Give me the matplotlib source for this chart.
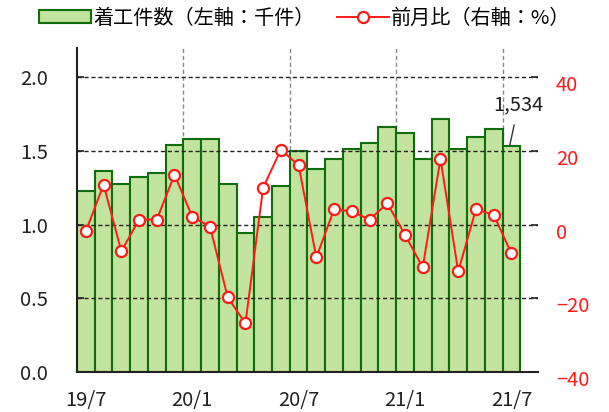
import numpy as np
import matplotlib
matplotlib.use("Agg")
import matplotlib.pyplot as plt
from matplotlib.patches import Patch
from matplotlib.lines import Line2D
import matplotlib.transforms as mtransforms

plt.rcParams["font.family"] = ["Noto Sans CJK JP", "DejaVu Sans"]

# monthly data, 19/7 .. 21/7
months = ["19/7", "19/8", "19/9", "19/10", "19/11", "19/12",
          "20/1", "20/2", "20/3", "20/4", "20/5", "20/6",
          "20/7", "20/8", "20/9", "20/10", "20/11", "20/12",
          "21/1", "21/2", "21/3", "21/4", "21/5", "21/6", "21/7"]
starts = [1.227, 1.363, 1.279, 1.322, 1.349, 1.539,
          1.580, 1.580, 1.279, 0.942, 1.051, 1.266,
          1.498, 1.376, 1.444, 1.512, 1.553, 1.661,
          1.620, 1.444, 1.715, 1.512, 1.593, 1.647, 1.534]
mom = [-1.8, 10.9, -7.2, 1.4, 1.4, 13.6,
       2.2, -0.5, -19.7, -26.8, 10.1, 20.4,
       16.1, -8.9, 4.2, 3.6, 1.4, 5.8,
       -2.7, -11.6, 17.9, -12.7, 4.2, 2.7, -7.8]
tick_labels = ["19/7", "20/1", "20/7", "21/1", "21/7"]

bar_face = "#c3e49e"
bar_edge = "#0e6e0e"
red = "#ff1a1a"

fig = plt.figure(figsize=(6.09, 4.12), dpi=100)
ax = fig.add_axes([0.1264, 0.0971, 0.7570, 0.7864])
ax2 = ax.twinx()

x = np.arange(len(months))
ax.bar(x, starts, width=1.0, align="edge", color=bar_face,
       edgecolor=bar_edge, linewidth=1.5, zorder=1)

ax.set_xlim(0, len(months) + 1)
ax.set_ylim(0, 2.2)
ax2.set_ylim(-40, 48)

# grid: horizontal over bars, vertical under bars
for yv in [0.5, 1.0, 1.5, 2.0]:
    ax.axhline(yv, color="#222222", lw=1.0, ls=(0, (3, 2)), zorder=2.5)
tick_idx = [months.index(m) for m in tick_labels]
for i in tick_idx[1:]:
    ax.axvline(x[i], color="#888888", lw=1.0, ls=(0, (3, 2)), zorder=0.5)

ax.set_xticks(x[tick_idx] + 0.5)
ax.set_xticklabels(tick_labels)
ax.tick_params(axis="x", length=0, pad=13, labelsize=14.5, colors="#222222")

ax.set_yticks([0.0, 0.5, 1.0, 1.5, 2.0])
ax.set_yticklabels(["0.0", "0.5", "1.0", "1.5", "2.0"])
ax.tick_params(axis="y", direction="in", length=5, width=1.2, pad=21,
               labelsize=14.5, colors="#222222")

ax2.set_yticks([-40, -20, 0, 20, 40])
ax2.set_yticklabels(["\u221240", "\u221220", "0", "20", "40"])
ax2.tick_params(axis="y", direction="in", length=5, width=1.2, pad=13,
                labelsize=14.5, colors="#222222", labelcolor=red)
offset = mtransforms.ScaledTranslation(0, -6 / 100, fig.dpi_scale_trans)
for lab in ax2.get_yticklabels():
    lab.set_transform(lab.get_transform() + offset)

for s in ["top", "right"]:
    ax.spines[s].set_visible(False)
for s in ax2.spines.values():
    s.set_visible(False)
ax.spines["left"].set_linewidth(1.5)
ax.spines["bottom"].set_linewidth(1.5)
ax.spines["left"].set_color("#222222")
ax.spines["bottom"].set_color("#222222")

ax2.plot(x + 0.5, mom, color=red, lw=1.4, marker="o", ms=8,
         mfc="white", mec=red, mew=1.6, zorder=3)

last = starts[-1]
ax.annotate(f"{last * 1000:,.0f}", xy=(x[-1] + 0.4, last),
            xytext=(x[-1] + 0.9, last + 0.28), ha="center", va="center",
            fontsize=14.5, color="#222222",
            arrowprops=dict(arrowstyle="-", color="#333333", lw=1.0,
                            shrinkA=5, shrinkB=0))

handles = [Patch(facecolor=bar_face, edgecolor=bar_edge, linewidth=1.5),
           Line2D([], [], color=red, lw=1.4, marker="o", ms=8,
                  mfc="white", mec=red, mew=1.6)]
fig.legend(handles, ["着工件数（左軸：千件）", "前月比（右軸：%）"],
           loc="upper center", bbox_to_anchor=(0.5, 1.01), ncol=2,
           frameon=False, fontsize=14.5, handlelength=2.6, handleheight=0.6,
           handletextpad=0.1, columnspacing=1.1, borderaxespad=0.2)

fig.savefig("out.png", dpi=100)
